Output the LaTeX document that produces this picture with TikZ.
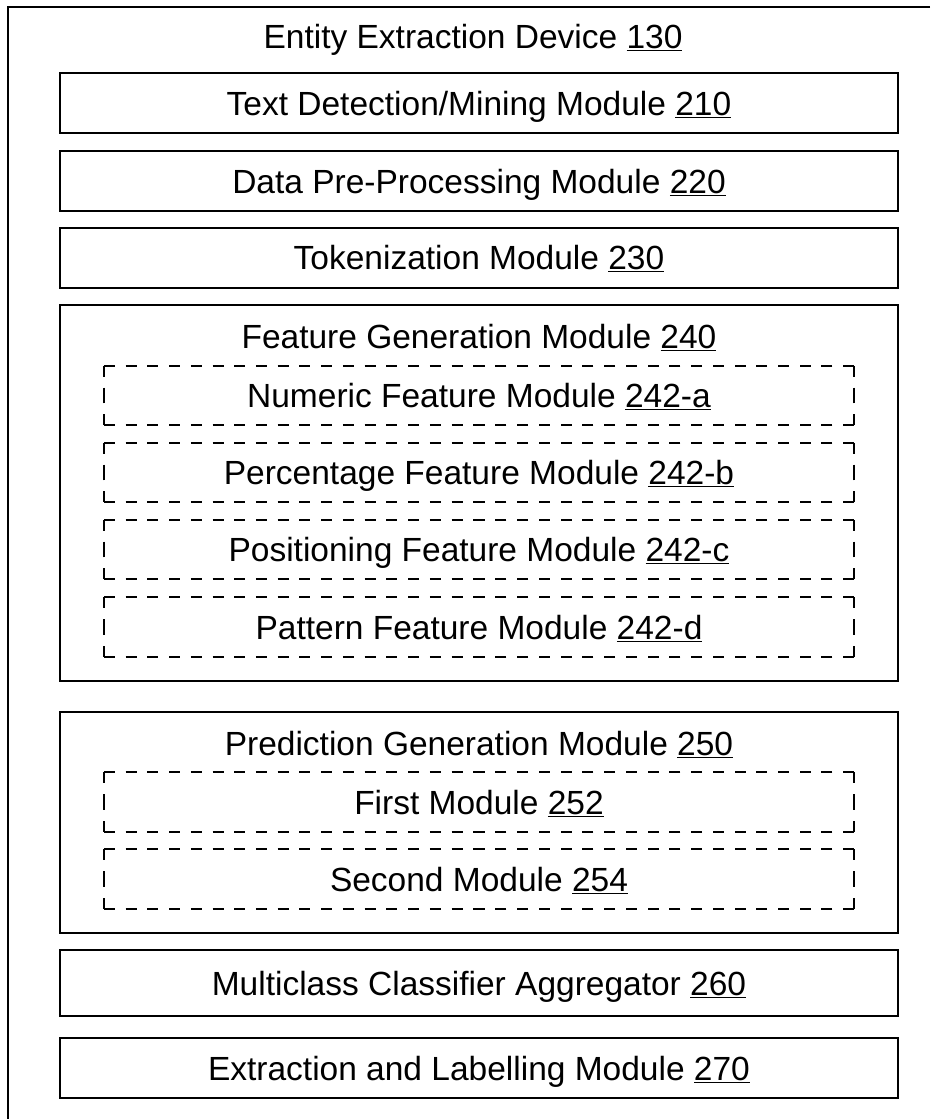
\documentclass[tikz,border=0pt]{standalone}
\usepackage{fontspec}
\setmainfont{Liberation Sans}
\usetikzlibrary{positioning}
\tikzset{
  lbl/.style={font=\fontsize{33.5}{40}\selectfont,inner sep=0pt,
    text height=24pt,text depth=0pt},
  modbox/.style={lbl,rectangle,draw,line width=2pt,
    minimum width=838pt,minimum height=60pt},
  groupbox/.style={rectangle,draw,line width=2pt,minimum width=838pt},
  subbox/.style={lbl,rectangle,draw=none,minimum width=750pt,minimum height=59pt},
  % dashed sides are drawn from both corners inwards, so every corner is an L
  subedge/.style={line width=1.8pt,dash pattern=on 11pt off 10.74pt}
}
\newcommand{\refnum}[1]{\underline{#1}}
\newcommand{\dashframe}[1]{%
  \draw[subedge] (#1.north west) -- (#1.north);
  \draw[subedge] (#1.north east) -- (#1.north);
  \draw[subedge] (#1.south west) -- (#1.south);
  \draw[subedge] (#1.south east) -- (#1.south);
  \draw[subedge] (#1.north west) -- (#1.west);
  \draw[subedge] (#1.south west) -- (#1.west);
  \draw[subedge] (#1.north east) -- (#1.east);
  \draw[subedge] (#1.south east) -- (#1.east);}

\begin{document}
\begin{tikzpicture}[x=1pt,y=-1pt]
\useasboundingbox (0,0) rectangle (940,1119);
% ---------------- device frame ----------------
\coordinate (devNE) at (930,7);
\coordinate (devSW) at (8,1119);
\draw[line width=1.8pt] (devNE) -- (devSW |- devNE) -- (devSW);
\node[lbl] (dev) at (473,36) {Entity Extraction Device \refnum{130}};
% ---------------- plain modules ----------------
\node[modbox] (tdm) at (479,103) {Text Detection/Mining Module \refnum{210}};
\node[modbox] (dpp) at (479,181) {Data Pre-Processing Module \refnum{220}};
\node[modbox] (tok) at (479,257.5) {Tokenization Module \refnum{230}};
% ---------------- feature generation ----------------
\node[groupbox,minimum height=376pt] (fgm) at (479,493) {};
\node[lbl] (fgmtitle) at (479,336) {Feature Generation Module \refnum{240}};
\node[subbox] (nfm) at (479,395.5) {Numeric Feature Module \refnum{242-a}};
\node[subbox] (pcf) at (479,472.5) {Percentage Feature Module \refnum{242-b}};
\node[subbox] (psf) at (479,549.5) {Positioning Feature Module \refnum{242-c}};
\node[subbox] (ptf) at (479,627) {Pattern Feature Module \refnum{242-d}};
% ---------------- prediction generation ----------------
\node[groupbox,minimum height=221pt] (pgm) at (479,822.5) {};
\node[lbl] (pgmtitle) at (479,743) {Prediction Generation Module \refnum{250}};
\node[subbox] (fst) at (479,802) {First Module \refnum{252}};
\node[subbox] (snd) at (479,879) {Second Module \refnum{254}};
\foreach \n in {nfm,pcf,psf,ptf,fst,snd} {\dashframe{\n}}
% ---------------- output stages ----------------
\node[modbox,minimum height=66pt] (mca) at (479,983) {Multiclass Classifier Aggregator \refnum{260}};
\node[modbox] (elm) at (479,1068) {Extraction and Labelling Module \refnum{270}};
\end{tikzpicture}
\end{document}
